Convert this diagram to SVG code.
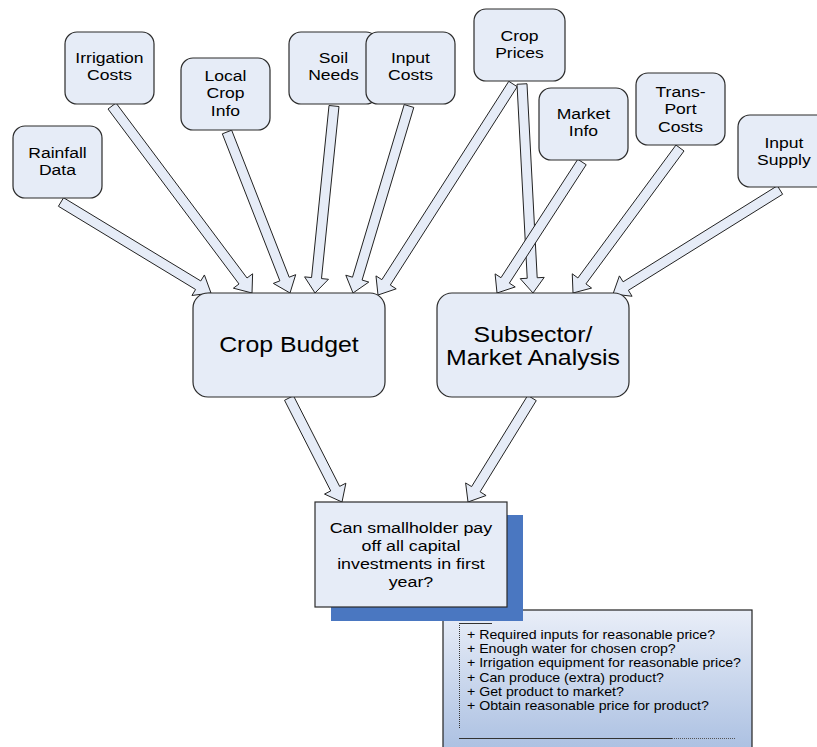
<svg xmlns="http://www.w3.org/2000/svg" width="817" height="747" viewBox="0 0 817 747">
<defs>
<linearGradient id="g1" x1="0" y1="0" x2="0" y2="1">
<stop offset="0" stop-color="#E9EEF8"/>
<stop offset="1" stop-color="#A7BDE0"/>
</linearGradient>
</defs>
<style>
.box{fill:#E6ECF7;stroke:#2b2b2b;stroke-width:1.2}
.arr{fill:#E6ECF7;stroke:#222;stroke-width:1}
text{font-family:"Liberation Sans",Arial,sans-serif;fill:#000;text-anchor:middle;transform-box:fill-box}
.s{font-size:15px;transform:scaleX(1.17);transform-origin:center}
.q{font-size:15px;transform:scaleX(1.19);transform-origin:center}
.b{font-size:22px;transform:scaleX(1.13);transform-origin:center}
.l{font-size:12px;text-anchor:start;transform:scaleX(1.18);transform-origin:left}
</style>
<rect width="817" height="747" fill="#fff"/>
<g id="connectors">
<polygon class="arr" points="58.41,206.27 195.58,289.49 191.94,295.48 211,293 204.40,274.96 200.76,280.95 63.59,197.73"/>
<polygon class="arr" points="108.00,109.00 239.01,283.99 233.40,288.18 252,293 252.62,273.80 247.01,277.99 116.00,103.00"/>
<polygon class="arr" points="222.34,133.82 279.87,280.85 273.36,283.40 290,293 295.70,274.66 289.19,277.21 231.66,130.18"/>
<polygon class="arr" points="329.03,105.49 311.55,277.57 304.58,276.87 315,293 328.46,279.29 321.49,278.59 338.97,106.51"/>
<polygon class="arr" points="404.21,104.57 352.51,277.20 345.80,275.19 353,293 368.80,282.07 362.09,280.06 413.79,107.43"/>
<polygon class="arr" points="508.79,81.31 381.87,279.68 375.97,275.90 378,295 396.19,288.84 390.29,285.06 517.21,86.69"/>
<polygon class="arr" points="517.01,84.26 527.22,278.28 520.23,278.65 533,293 544.19,277.39 537.20,277.76 526.99,83.74"/>
<polygon class="arr" points="577.81,159.28 500.97,277.70 495.10,273.89 497,293 515.22,286.95 509.35,283.14 586.19,164.72"/>
<polygon class="arr" points="675.98,145.03 577.89,277.96 572.25,273.80 573,293 591.57,288.06 585.93,283.90 684.02,150.97"/>
<polygon class="arr" points="777.36,185.75 623.10,281.82 619.40,275.88 613,294 632.08,296.26 628.38,290.32 782.64,194.25"/>
<polygon class="arr" points="284.54,400.27 330.73,490.90 324.50,494.08 342,502 345.88,483.18 339.65,486.36 293.46,395.73"/>
<polygon class="arr" points="527.74,395.38 471.60,486.60 465.64,482.93 468,502 486.08,495.51 480.12,491.84 536.26,400.62"/>
</g>
<g id="rainfall"><rect class="box" x="13" y="126" width="89" height="72" rx="12"/><text class="s" x="57.5" y="158">Rainfall</text><text class="s" x="57.5" y="175">Data</text></g>
<g id="irrigation"><rect class="box" x="65" y="32" width="89" height="72" rx="12"/><text class="s" x="109.5" y="63">Irrigation</text><text class="s" x="109.5" y="80">Costs</text></g>
<g id="localcrop"><rect class="box" x="181" y="58" width="89" height="72" rx="12"/><text class="s" x="225.5" y="81">Local</text><text class="s" x="225.5" y="98.5">Crop</text><text class="s" x="225.5" y="116">Info</text></g>
<g id="soil"><rect class="box" x="289" y="32" width="89" height="72" rx="12"/><text class="s" x="333.5" y="63">Soil</text><text class="s" x="333.5" y="80">Needs</text></g>
<g id="inputcosts"><rect class="box" x="366" y="32" width="89" height="72" rx="12"/><text class="s" x="410.5" y="63">Input</text><text class="s" x="410.5" y="80">Costs</text></g>
<g id="cropprices"><rect class="box" x="474" y="9" width="91" height="72" rx="12"/><text class="s" x="519.5" y="41">Crop</text><text class="s" x="519.5" y="58">Prices</text></g>
<g id="marketinfo"><rect class="box" x="539" y="88" width="89" height="72" rx="12"/><text class="s" x="583.5" y="119">Market</text><text class="s" x="583.5" y="136">Info</text></g>
<g id="transport"><rect class="box" x="636" y="73" width="89" height="72" rx="12"/><text class="s" x="680.5" y="97">Trans-</text><text class="s" x="680.5" y="114.5">Port</text><text class="s" x="680.5" y="132">Costs</text></g>
<g id="inputsupply"><rect class="box" x="738" y="115" width="92" height="72" rx="12"/><text class="s" x="784" y="148">Input</text><text class="s" x="784" y="165">Supply</text></g>
<g id="cropbudget"><rect class="box" x="193" y="293" width="192" height="104" rx="15"/><text class="b" x="289" y="352">Crop Budget</text></g>
<g id="subsector"><rect class="box" x="437" y="293" width="192" height="104" rx="15"/><text class="b" x="533" y="342">Subsector/</text><text class="b" x="533" y="365">Market Analysis</text></g>
<g id="checklist">
<rect x="443" y="610" width="309" height="150" fill="url(#g1)" stroke="#222" stroke-width="1.2"/>
<line x1="459.5" y1="623" x2="459.5" y2="728" stroke="#333" stroke-width="1" stroke-dasharray="1,1"/>
<line x1="459" y1="623.5" x2="492" y2="623.5" stroke="#333" stroke-width="1"/>
<line x1="459" y1="738.5" x2="672" y2="738.5" stroke="#333" stroke-width="1"/>
<line x1="672" y1="738.5" x2="735" y2="738.5" stroke="#555" stroke-width="1" stroke-dasharray="1,1"/>
<text class="l" x="467" y="639">+ Required inputs for reasonable price?</text>
<text class="l" x="467" y="653">+ Enough water for chosen crop?</text>
<text class="l" x="467" y="667">+ Irrigation equipment for reasonable price?</text>
<text class="l" x="467" y="682">+ Can produce (extra) product?</text>
<text class="l" x="467" y="696">+ Get product to market?</text>
<text class="l" x="467" y="710">+ Obtain reasonable price for product?</text>
</g>
<g id="question">
<rect x="331" y="515" width="192" height="106" fill="#4A77C1"/>
<rect class="box" x="315" y="502" width="192" height="105"/>
<text class="q" x="411" y="533">Can smallholder pay</text>
<text class="q" x="411" y="551">off all capital</text>
<text class="q" x="411" y="569">investments in first</text>
<text class="q" x="411" y="587">year?</text>
</g>
</svg>
